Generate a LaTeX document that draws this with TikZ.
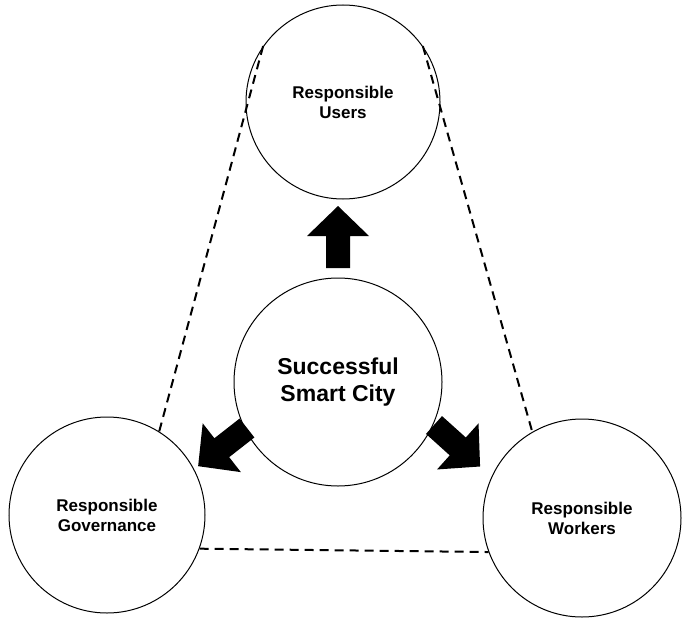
\documentclass[tikz,border=0pt]{standalone}
\usepackage{fontspec}
\setmainfont{Liberation Sans}
\begin{document}
\begin{tikzpicture}[x=1pt,y=-1pt,
  circ/.style={draw,circle,line width=1pt,align=center,font=\bfseries\fontsize{17}{20}\selectfont},
  dashln/.style={line width=2pt,dash pattern=on 9pt off 6pt}]
\useasboundingbox (0,0) rectangle (687,626);
\node[circ,minimum size=194pt] (u) at (343,102) {Responsible\\Users};
\node[circ,minimum size=208pt,font=\bfseries\fontsize{23}{27}\selectfont] (c) at (338,382) {Successful\\Smart City};
\node[circ,minimum size=196pt] (g) at (107,515) {Responsible\\Governance};
\node[circ,minimum size=198pt] (w) at (582,518) {Responsible\\Workers};
\draw[dashln] (u.145) -- (g.58);
\draw[dashln] (u.35) -- (w.120);
\draw[dashln] (g.-20) -- (w.200);
\foreach \px/\py/\ang in {338/268/90,247/428/218,434/425/-42}{
  \begin{scope}[shift={(\px,\py)},rotate=\ang]
    \fill (0,-12) -- (32,-12) -- (32,-31) -- (62,0) -- (32,31) -- (32,12) -- (0,12) -- cycle;
  \end{scope}}
\end{tikzpicture}
\end{document}
